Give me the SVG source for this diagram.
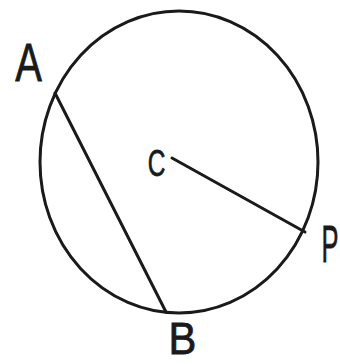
<svg xmlns="http://www.w3.org/2000/svg" width="340" height="364" viewBox="0 0 340 364">
<style>
.ln{fill:none;stroke:#1a1a1a;stroke-width:3;stroke-linecap:round}
.lb{font-family:"Liberation Sans",Arial,sans-serif;fill:#1a1a1a;stroke:#1a1a1a;stroke-width:0.8;text-anchor:middle}
</style>
<rect width="340" height="364" fill="#ffffff"/>
<g id="circle"><ellipse class="ln" cx="179" cy="162" rx="139" ry="151"/></g>
<g id="connectors">
<line class="ln" x1="55" y1="93" x2="166" y2="312"/>
<line class="ln" x1="172" y1="158" x2="305" y2="232"/>
</g>
<g id="A"><text class="lb" font-size="54" transform="translate(28.5,81) scale(0.74,1)">A</text></g>
<g id="B"><text class="lb" font-size="44" transform="translate(182.5,354) scale(0.95,1)">B</text></g>
<g id="C"><text class="lb" font-size="37" transform="translate(156.5,176) scale(0.66,1)">C</text></g>
<g id="P"><text class="lb" font-size="51" transform="translate(330,262) scale(0.5,1)">P</text></g>
</svg>
